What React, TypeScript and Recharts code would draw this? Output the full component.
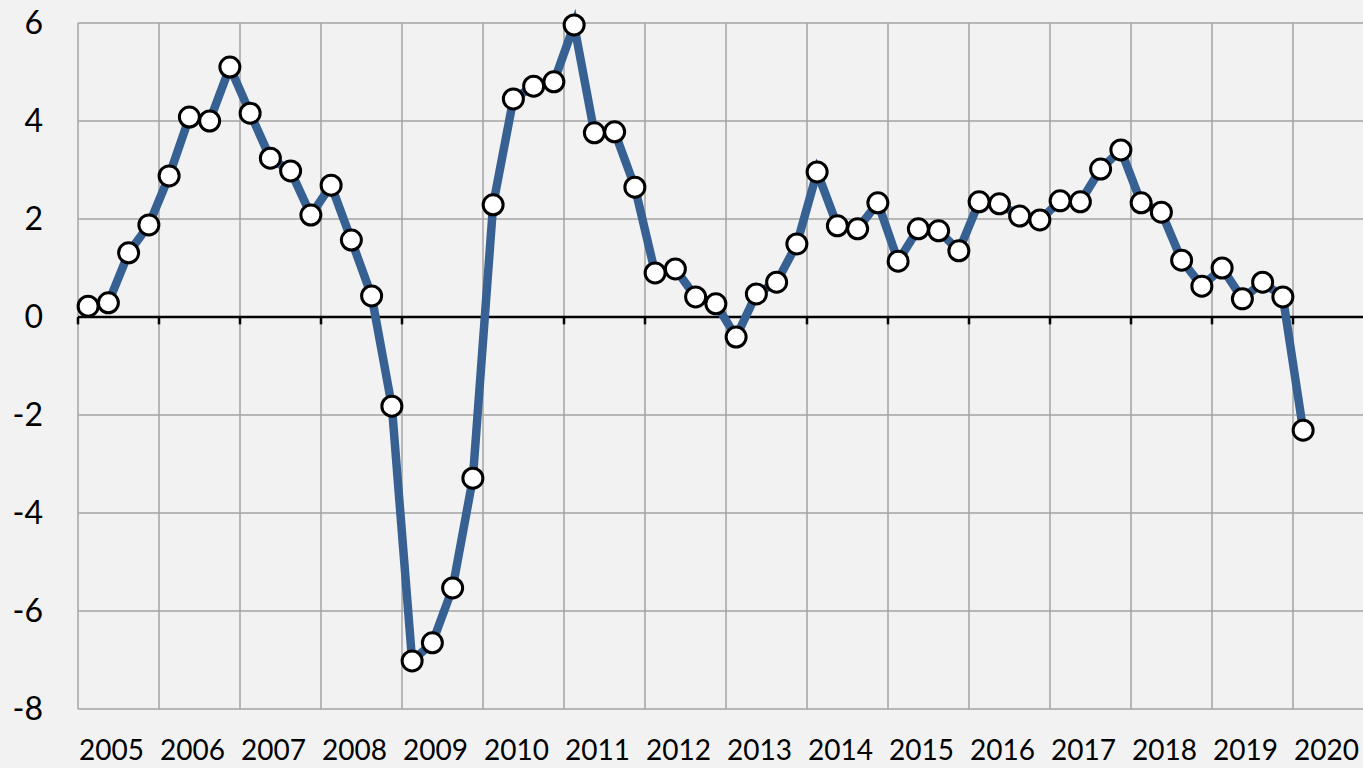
import React from 'react';
import { CartesianGrid, Line, LineChart, ReferenceLine, XAxis, YAxis } from 'recharts';

// quarterly values, 2005 Q1 .. 2020 Q1
const YEARS = [2005, 2006, 2007, 2008, 2009, 2010, 2011, 2012, 2013, 2014, 2015, 2016, 2017, 2018, 2019, 2020];
const GROWTH = [
	0.22, 0.29, 1.31, 1.88, 2.88, 4.08, 4.0, 5.1,
	4.16, 3.24, 2.98, 2.08, 2.69, 1.57, 0.43, -1.82,
	-7.02, -6.65, -5.53, -3.29, 2.29, 4.45, 4.71, 4.8,
	5.96, 3.76, 3.78, 2.65, 0.9, 0.98, 0.41, 0.27,
	-0.41, 0.47, 0.71, 1.49, 2.96, 1.86, 1.8, 2.33,
	1.14, 1.8, 1.76, 1.35, 2.35, 2.31, 2.06, 1.98,
	2.37, 2.35, 3.02, 3.41, 2.33, 2.14, 1.16, 0.63,
	1.0, 0.37, 0.71, 0.41, -2.31,
];
const Y_TICKS = [-8, -6, -4, -2, 0, 2, 4, 6];

const data = Array.from({ length: YEARS.length * 4 }, (_, k) => ({
	pos: k + 0.5,
	quarter: `${YEARS[Math.floor(k / 4)]} Q${(k % 4) + 1}`,
	value: k < GROWTH.length ? GROWTH[k] : null,
}));
const YEAR_TICKS = [...YEARS.map((_, i) => i * 4), YEARS.length * 4];

const FONT = 'Lato, "Open Sans", sans-serif';

function YearTick(props: any) {
	const { x, y, payload } = props;
	const year = YEARS[payload.value / 4];
	if (year === undefined) return <g />;
	return (
		<text x={x + 1} y={y + 51} textAnchor="start" fontSize={28} fontFamily={FONT} fill="#000">
			{year}
		</text>
	);
}

export default function App() {
	return (
		<div
			style={{
				position: 'absolute',
				left: 0,
				top: 0,
				width: 1363,
				height: 768,
				overflow: 'hidden',
				background: '#f2f2f2',
			}}
		>
			<LineChart width={1400} height={768} data={data} margin={{ top: 23, right: 26, bottom: 0, left: 0 }}>
				<CartesianGrid stroke="#a3a3a3" strokeWidth={1.5} ticks={Y_TICKS} />
				<XAxis
					dataKey="pos"
					type="number"
					domain={[0, YEARS.length * 4]}
					ticks={YEAR_TICKS}
					interval={0}
					height={59}
					axisLine={false}
					tickLine={false}
					tickSize={0}
					tickMargin={0}
					tick={<YearTick />}
				/>
				<YAxis
					type="number"
					domain={[-8, 6]}
					ticks={Y_TICKS}
					interval={0}
					width={78}
					axisLine={false}
					tickLine={false}
					tickSize={0}
					tickMargin={35}
					tick={{ fontSize: 32, fontFamily: FONT, fill: '#000' }}
				/>
				<ReferenceLine y={0} stroke="#000" strokeWidth={2.5} />
				{YEAR_TICKS.map((t) => (
					<ReferenceLine
						key={t}
						segment={[
							{ x: t, y: 0 },
							{ x: t, y: -0.15 },
						]}
						stroke="#000"
						strokeWidth={2.5}
						ifOverflow="visible"
					/>
				))}
				<Line
					type="linear"
					dataKey="value"
					stroke="#376093"
					strokeWidth={8.5}
					dot={{ r: 10, fill: '#fff', stroke: '#000', strokeWidth: 3 }}
					activeDot={false}
					isAnimationActive={false}
				/>
			</LineChart>
		</div>
	);
}
